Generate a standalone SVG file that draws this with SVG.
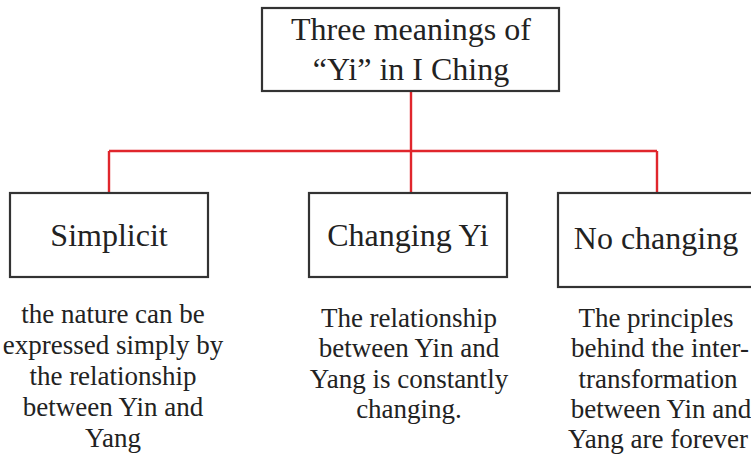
<svg xmlns="http://www.w3.org/2000/svg" width="751" height="464" viewBox="0 0 751 464">
<style>
.box{fill:#fff;stroke:#333;stroke-width:2.2}
.t{fill:#222;text-anchor:middle}
.h{font-size:32px}
.d{font-size:27px}
.c{stroke:#e0262c;stroke-width:2.4;fill:none}
</style>
<rect width="751" height="464" fill="#fff"/>
<g id="connectors">
<path class="c" d="M411 91V193M109 151H657M109 151V193M657 151V193"/>
</g>
<g font-family="Liberation Serif, DejaVu Serif, serif">
<g id="root">
<rect class="box" x="262" y="8" width="297" height="83"/>
<text class="t h" x="411" y="40">Three meanings of</text>
<text class="t h" x="411" y="80">“Yi” in I Ching</text>
</g>
<g id="simplicit">
<rect class="box" x="10" y="193" width="198" height="84"/>
<text class="t h" x="109" y="246">Simplicit</text>
<text class="t d" x="113" y="323">the nature can be</text>
<text class="t d" x="113" y="354">expressed simply by</text>
<text class="t d" x="113" y="385">the relationship</text>
<text class="t d" x="113" y="416">between Yin and</text>
<text class="t d" x="113" y="447">Yang</text>
</g>
<g id="changing">
<rect class="box" x="309" y="193" width="198" height="84"/>
<text class="t h" x="408" y="246">Changing Yi</text>
<text class="t d" x="409" y="327">The relationship</text>
<text class="t d" x="409" y="357">between Yin and</text>
<text class="t d" x="409" y="388">Yang is constantly</text>
<text class="t d" x="409" y="418">changing.</text>
</g>
<g id="nochanging">
<rect class="box" x="558" y="193" width="200" height="94"/>
<text class="t h" x="656" y="249">No changing</text>
<text class="t d" x="656" y="327">The principles</text>
<text class="t d" x="660" y="357">behind the inter-</text>
<text class="t d" x="658" y="388">transformation</text>
<text class="t d" x="661" y="418">between Yin and</text>
<text class="t d" x="658" y="448">Yang are forever</text>
</g>
</g>
</svg>
